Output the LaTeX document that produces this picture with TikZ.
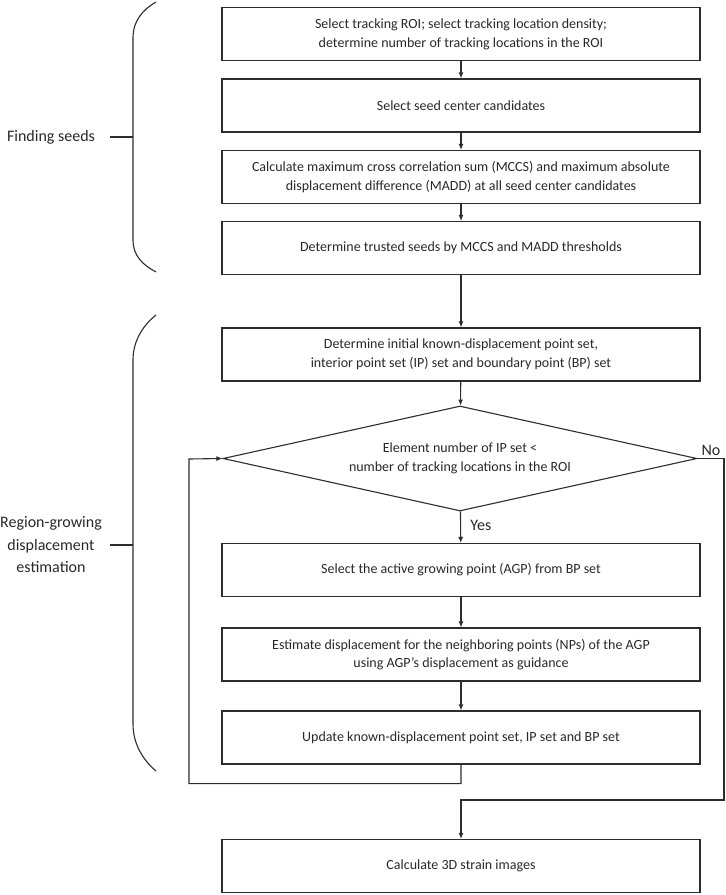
\documentclass[tikz,border=0pt]{standalone}
\usepackage{fontspec}
\setmainfont{Carlito}
\usepackage{tikz}
\usetikzlibrary{shapes.geometric,arrows.meta,positioning,calc}
\definecolor{traitGris}{RGB}{45,45,45}
\definecolor{texteGris}{RGB}{40,40,40}

\begin{document}
\begin{tikzpicture}[x=1pt, y=-1pt, font=\fontsize{14}{18.7}\selectfont, text=texteGris,
  procbox/.style={draw=traitGris, line width=1.1pt, minimum width=478pt, minimum height=53pt, align=center, inner sep=0pt},
  testbox/.style={draw=traitGris, line width=1.1pt, diamond, aspect=4.5, minimum width=474pt, minimum height=105pt, align=center, inner sep=0pt},
  fleche/.style={-{Latex[length=6pt,width=5pt]}, draw=traitGris, line width=1.1pt},
  accolade/.style={draw=traitGris, line width=1.1pt},
  sidelabel/.style={font=\fontsize{16}{22.5}\selectfont, align=center}]

\useasboundingbox (0,0) rectangle (726,895);

\node[procbox] (roi) at (461,34) {Select tracking ROI; select tracking location density;\\determine number of tracking locations in the ROI};
\node[procbox] (cand) at (461,105.5) {Select seed center candidates};
\node[procbox] (mccs) at (461,177) {Calculate maximum cross correlation sum (MCCS) and maximum absolute\\displacement difference (MADD) at all seed center candidates};
\node[procbox] (trusted) at (461,248) {Determine trusted seeds by MCCS and MADD thresholds};

\node[procbox] (init) at (461,354.5) {Determine initial known-displacement point set,\\interior point set (IP) set and boundary point (BP) set};
\node[testbox] (cond) at (460,458.5) {Element number of IP set <\\number of tracking locations in the ROI};
\node[procbox] (agp) at (461,570) {Select the active growing point (AGP) from BP set};
\node[procbox] (nps) at (461,654.5) {Estimate displacement for the neighboring points (NPs) of the AGP\\using AGP's displacement as guidance};
\node[procbox] (update) at (461,737.5) {Update known-displacement point set, IP set and BP set};
\node[procbox] (strain) at (461,866) {Calculate 3D strain images};

\draw[fleche] (roi) -- (cand);
\draw[fleche] (cand) -- (mccs);
\draw[fleche] (mccs) -- (trusted);
\draw[fleche] (trusted) -- (init);
\draw[fleche] (init) -- (cond);
\draw[fleche] (cond) -- node[sidelabel, right=6pt, pos=0.45] (yes) {Yes} (agp);
\draw[fleche] (agp) -- (nps);
\draw[fleche] (nps) -- (update);

\coordinate (loopTop) at (189,459);
\coordinate (noTurn) at (724,800);
\draw[fleche] (update.south) -- ++(0,19) -| (loopTop) -- (cond.west);
\draw[fleche] (cond.east) -| (noTurn) -| (strain.north);
\node[sidelabel, above] (no) at (711,459) {No};

\draw[accolade] (156,2) .. controls (142,10) and (133,22) .. (133,37) -- (133,240)
  .. controls (133,256) and (143,265) .. (156,272);
\draw[accolade] (110,137) -- (133,137);
\node[sidelabel] (seeds) at (51,137) {Finding seeds};

\draw[accolade] (156,315) .. controls (141,327) and (133,343) .. (133,360) -- (133,724)
  .. controls (133,744) and (143,760) .. (156,771);
\draw[accolade] (110,545) -- (133,545);
\node[sidelabel] (region) at (51,545) {Region-growing\\displacement\\estimation};

\end{tikzpicture}
\end{document}
